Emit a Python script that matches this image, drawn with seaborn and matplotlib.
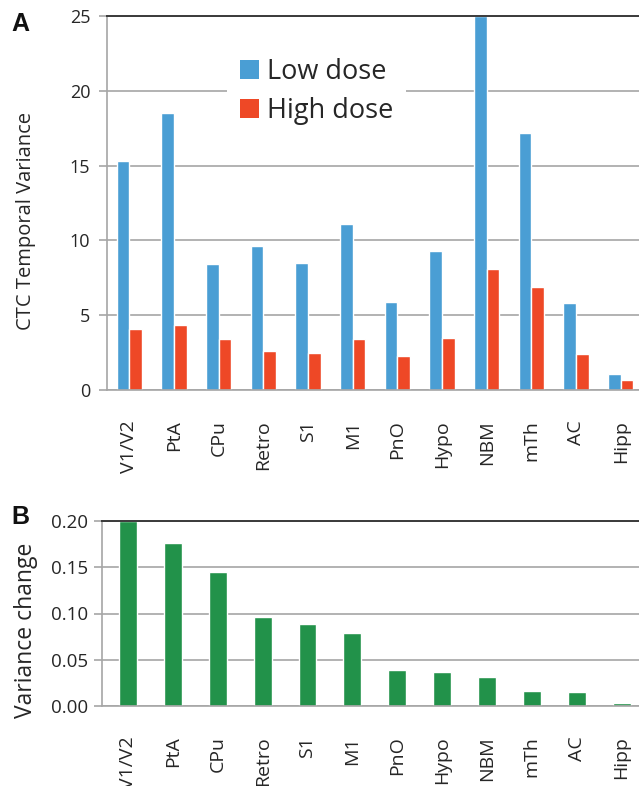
import matplotlib
matplotlib.use("Agg")
import matplotlib.pyplot as plt
import seaborn as sns
import pandas as pd
from matplotlib.patches import Patch

regions = ["V1/V2", "PtA", "CPu", "Retro", "S1", "M1", "PnO", "Hypo", "NBM", "mTh", "AC", "Hipp"]
low_dose = [15.3, 18.5, 8.4, 9.6, 8.5, 11.1, 5.9, 9.3, 25.0, 17.2, 5.8, 1.05]
high_dose = [4.1, 4.35, 3.4, 2.6, 2.5, 3.4, 2.3, 3.5, 8.1, 6.9, 2.4, 0.65]
variance_change = [0.200, 0.176, 0.1445, 0.096, 0.089, 0.079, 0.039, 0.037, 0.0317, 0.0159, 0.0153, 0.0032]

BLUE = "#4A9ED4"
RED = "#EE4826"
GREEN = "#22924A"
GRID = "#a6a6a6"
TXT = "#262626"

sns.set_theme(style="white")
plt.rcParams['font.family'] = ['Open Sans', 'DejaVu Sans']

fig = plt.figure(figsize=(6.39, 7.86), dpi=100)
W, H = 639, 786

def px_axes(left, top, right, bottom):
    return fig.add_axes([left / W, (H - bottom) / H, (right - left) / W, (bottom - top) / H])

def style_axes(ax, tick_len, tick_pad, ylab_size):
    ax.yaxis.grid(True, color=GRID, lw=1.2)
    ax.set_axisbelow(True)
    ax.set_xlabel("")
    ax.spines["right"].set_visible(False)
    ax.spines["top"].set_color("#3a3a3a")
    ax.spines["top"].set_linewidth(1.4)
    for s in ["left", "bottom"]:
        ax.spines[s].set_color(GRID)
        ax.spines[s].set_linewidth(1.2)
    ax.tick_params(axis="y", left=True, length=tick_len, width=1.2, color=GRID,
                   pad=tick_pad, labelsize=ylab_size, labelcolor=TXT)
    ax.tick_params(axis="x", bottom=False, pad=16, labelsize=14, labelcolor=TXT,
                   labelrotation=90)
    for lab in ax.get_xticklabels():
        lab.set_va("top")

# ---------- Panel A ----------
A_L, A_T, A_R, A_B = 107, 16, 643, 390
axA = px_axes(A_L, A_T, A_R, A_B)
dfA = pd.DataFrame({
    "region": regions * 2,
    "value": low_dose + high_dose,
    "dose": ["Low dose"] * len(regions) + ["High dose"] * len(regions),
})
sns.barplot(data=dfA, x="region", y="value", hue="dose", order=regions,
            hue_order=["Low dose", "High dose"], palette=[BLUE, RED],
            width=0.56, gap=0, saturation=1, ax=axA, legend=False)
axA.set_xlim(-0.5, 11.5)
axA.set_ylim(0, 25)
axA.set_yticks([0, 5, 10, 15, 20, 25])
style_axes(axA, 6, 6, 13)
axA.set_ylabel("CTC Temporal Variance", fontsize=14.5, color=TXT)
axA.yaxis.set_label_coords((36 - A_L) / (A_R - A_L), (A_B - 221) / (A_B - A_T))

handles = [Patch(facecolor=BLUE, edgecolor="none"), Patch(facecolor=RED, edgecolor="none")]
leg = axA.legend(handles, ["Low dose", "High dose"], loc="upper left",
                 bbox_to_anchor=((227 - A_L) / (A_R - A_L), 1 - (45 - A_T) / (A_B - A_T)),
                 frameon=True, fontsize=19.5, handlelength=0.7, handleheight=0.7,
                 handletextpad=0.3, labelspacing=0.4, borderpad=0.48, borderaxespad=0)
leg.get_frame().set_facecolor("white")
leg.get_frame().set_edgecolor("none")
leg.get_frame().set_alpha(1)
for t in leg.get_texts():
    t.set_color(TXT)

fig.text(11 / W, 1 - 12 / H, "A", fontsize=18, fontweight="bold", color="#111111",
         va="top", ha="left", family=["Liberation Sans", "DejaVu Sans"])

# ---------- Panel B ----------
B_L, B_T, B_R, B_B = 102, 521, 644, 706
axB = px_axes(B_L, B_T, B_R, B_B)
dfB = pd.DataFrame({"region": regions, "change": variance_change})
sns.barplot(data=dfB, x="region", y="change", order=regions, color=GREEN,
            width=0.40, saturation=1, ax=axB)
axB.set_xlim(-0.58, 11.5)
axB.set_ylim(0, 0.20)
axB.set_yticks([0, 0.05, 0.10, 0.15, 0.20])
axB.set_yticklabels(["0.00", "0.05", "0.10", "0.15", "0.20"])
style_axes(axB, 6, 4, 13.5)
axB.set_ylabel("Variance change", fontsize=16.5, color=TXT)
axB.yaxis.set_label_coords((38 - B_L) / (B_R - B_L), (B_B - 630) / (B_B - B_T))

fig.text(11 / W, 1 - 505 / H, "B", fontsize=18, fontweight="bold", color="#111111",
         va="top", ha="left", family=["Liberation Sans", "DejaVu Sans"])

fig.savefig("out.png", dpi=100)
